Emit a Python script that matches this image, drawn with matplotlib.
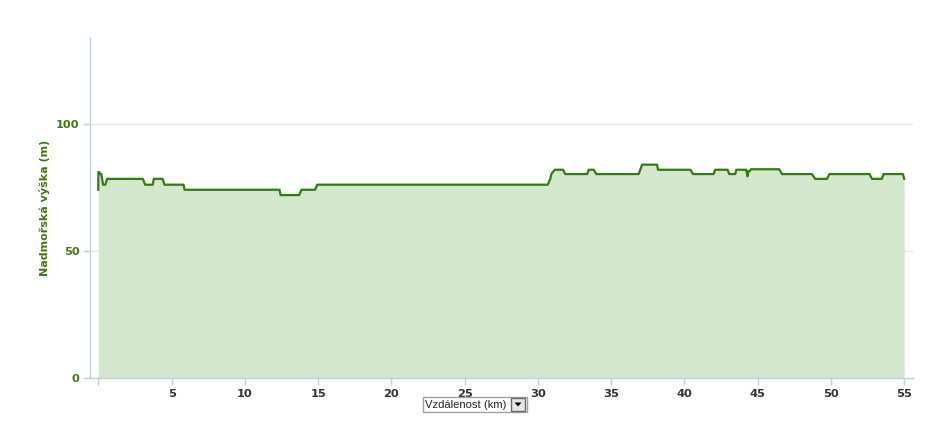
import matplotlib
matplotlib.use("Agg")
import matplotlib.pyplot as plt
from matplotlib.patches import Rectangle, Polygon

# elevation profile (distance km, elevation m)
dist_km = [0.0, 0.01, 0.08, 0.10, 0.21, 0.33, 0.49, 0.60, 3.04, 3.20, 3.72, 3.79,
           4.39, 4.52, 5.82, 5.89, 12.37, 12.44, 13.71, 13.87, 14.80, 14.94,
           30.67, 30.85, 30.92, 31.15, 31.72, 31.87, 33.36, 33.47, 33.81, 33.99,
           36.88, 37.11, 38.13, 38.20, 40.41, 40.59, 41.99, 42.10, 42.95, 43.06,
           43.47, 43.54, 44.22, 44.30, 44.36, 44.45, 44.54, 46.47, 46.66, 48.70,
           48.93, 49.73, 49.90, 52.63, 52.81, 53.48, 53.59, 54.91, 55.00]
elev_m = [74.2, 81.2, 81.2, 80.4, 80.4, 76.2, 76.2, 78.5, 78.5, 76.2, 76.2, 78.5,
          78.5, 76.2, 76.2, 74.2, 74.2, 72.1, 72.1, 74.2, 74.2, 76.2,
          76.2, 78.5, 80.4, 82.1, 82.1, 80.4, 80.4, 82.1, 82.1, 80.4,
          80.4, 84.1, 84.1, 82.1, 82.1, 80.4, 80.4, 82.1, 82.1, 80.4,
          80.4, 82.1, 82.1, 79.5, 81.5, 81.5, 82.3, 82.3, 80.4, 80.4,
          78.5, 78.5, 80.4, 80.4, 78.5, 78.5, 80.4, 80.4, 78.5]

x_ticks = [0, 5, 10, 15, 20, 25, 30, 35, 40, 45, 50, 55]
x_labels = [""] + [str(t) for t in x_ticks[1:]]
y_ticks = [0, 50, 100]

LINE = "#2f7d12"
FILL = "#d3e7cc"
GREEN_TXT = "#3f7a10"
AXIS = "#c0d0e0"

W, H = 945, 436
fig = plt.figure(figsize=(W / 100, H / 100), dpi=100)
left, right, bottom, top = 90.5, 913, 377.7, 38.3
ax = fig.add_axes([left / W, 1 - bottom / H, (right - left) / W, (bottom - top) / H])

ax.fill_between(dist_km, elev_m, 0, color=FILL, lw=0)
ax.plot(dist_km, elev_m, color=LINE, lw=1.6, solid_joinstyle="round")

ax.set_xlim(-0.53, 55.6)
ax.set_ylim(0, 134)

for sp in ["top", "right"]:
    ax.spines[sp].set_visible(False)
for sp in ["left", "bottom"]:
    ax.spines[sp].set_color(AXIS)
    ax.spines[sp].set_linewidth(1)

ax.set_yticks(y_ticks)
ax.set_xticks(x_ticks)
ax.set_xticklabels(x_labels)
ax.tick_params(axis="x", colors=AXIS, length=5, width=1, pad=3, labelcolor="#333333",
               labelsize=8.2)
ax.tick_params(axis="y", colors=AXIS, length=5, width=1, pad=3, labelcolor=GREEN_TXT,
               labelsize=8.2)
for lab in ax.get_xticklabels() + ax.get_yticklabels():
    lab.set_fontweight("bold")

for v in y_ticks[1:]:
    ax.axhline(v, color="#e8e8e8", lw=1, zorder=0)

fig.text(45 / W, 1 - 208 / H, "Nadmořská výška (m)", rotation=90, ha="center",
         va="center", color=GREEN_TXT, fontsize=8, fontweight="bold")

# dropdown box under the x axis
def px_rect(x0, y0, x1, y1, **kw):
    fig.patches.append(Rectangle((x0 / W, 1 - y1 / H), (x1 - x0) / W, (y1 - y0) / H,
                                 transform=fig.transFigure, **kw))

px_rect(422.7, 396.7, 526.7, 411.7, facecolor="white", edgecolor="#a0a0a0", lw=1)
px_rect(511, 398, 525.5, 410.5, facecolor="#e6e6e6", edgecolor="#6a6a6a", lw=1)
tri = [(514.5, 402.5), (521.5, 402.5), (518, 406.5)]
fig.patches.append(Polygon([(x / W, 1 - y / H) for x, y in tri], closed=True,
                           transform=fig.transFigure, facecolor="black", lw=0))
fig.text(425.5 / W, 1 - 404.5 / H, "Vzdálenost (km)", ha="left", va="center",
         fontsize=8.1, color="#222222", family="Liberation Sans")

fig.savefig("out.png", dpi=100)
